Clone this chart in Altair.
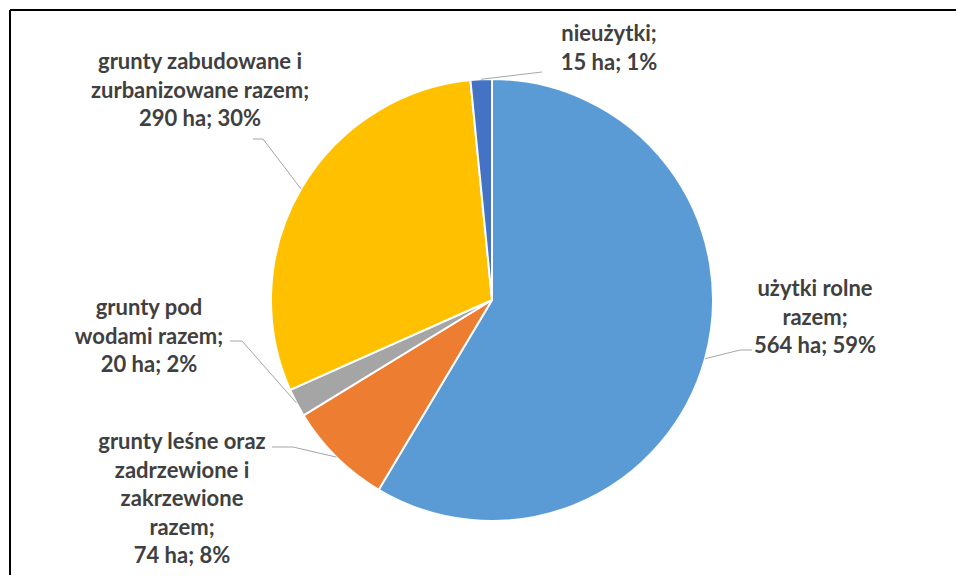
import altair as alt
import numpy as np
import pandas as pd

# ---- data ----
categories = [
    "użytki rolne razem",
    "grunty leśne oraz zadrzewione i zakrzewione razem",
    "grunty pod wodami razem",
    "grunty zabudowane i zurbanizowane razem",
    "nieużytki",
]
areas_ha = [564, 74, 20, 290, 15]
percents = [59, 8, 2, 30, 1]
label_lines = [
    ["użytki rolne", "razem;", "564 ha; 59%"],
    ["grunty leśne oraz", "zadrzewione i", "zakrzewione", "razem;", "74 ha; 8%"],
    ["grunty pod", "wodami razem;", "20 ha; 2%"],
    ["grunty zabudowane i", "zurbanizowane razem;", "290 ha; 30%"],
    ["nieużytki;", "15 ha; 1%"],
]
colors = ["#5B9BD5", "#ED7D31", "#A5A5A5", "#FFC000", "#4472C4"]

# ---- layout (plot coordinates, px; label y = first line centre) ----
W, H = 946, 565
CX, CY, R = 482, 290, 221
label_pos = [(805, 279), (172, 432), (139, 298), (190, 52), (599, 24)]
elbows = [[(742, 340), (730, 340)], [(262, 437), (283, 437)], [(220, 331), (232, 331)],
          [(243, 129), (253, 129)], [(532, 62)]]

df = pd.DataFrame({
    "cat": categories,
    "area": areas_ha,
    "idx": list(range(len(categories))),
})

tdf = pd.DataFrame({
    "cat": categories,
    "txt": ["\n".join(l) for l in label_lines],
    "lx": [p[0] for p in label_pos],
    "ly": [p[1] for p in label_pos],
})

# leader lines: from elbow points to the rim at each slice's mid-angle
total = float(sum(areas_ha))
cum = np.cumsum([0] + areas_ha[:-1])
rows = []
for i, c in enumerate(categories):
    mid = (cum[i] + areas_ha[i] / 2) / total * 2 * np.pi
    ex, ey = CX + R * np.sin(mid), CY - R * np.cos(mid)
    pts = elbows[i] + [(ex, ey)]
    for j, (px, py) in enumerate(pts):
        rows.append({"cat": c, "seq": j, "px": px, "py": py})
ldf = pd.DataFrame(rows)

pie = alt.Chart(df).mark_arc(
    radius=R, x=CX, y=CY, stroke="white", strokeWidth=2
).encode(
    theta=alt.Theta("area:Q", stack=True),
    order=alt.Order("idx:Q"),
    color=alt.Color("cat:N", scale=alt.Scale(domain=categories, range=colors), legend=None),
)

leaders = alt.Chart(ldf).mark_line(color="#A6A6A6", strokeWidth=1).encode(
    x=alt.X("px:Q", scale=None, axis=None),
    y=alt.Y("py:Q", scale=None, axis=None),
    detail="cat:N",
    order="seq:Q",
)

labels = alt.Chart(tdf).mark_text(
    font="Lato", fontWeight="bold", fontSize=22, color="#404040",
    lineBreak="\n", lineHeight=28.5, align="center", baseline="middle",
).encode(
    x=alt.X("lx:Q", scale=None, axis=None),
    y=alt.Y("ly:Q", scale=None, axis=None),
    text="txt:N",
)

frame_top = alt.Chart(df).mark_rule(color="black", strokeWidth=2).encode(
    x=alt.value(0), x2=alt.value(W), y=alt.value(0)
)
frame_left = alt.Chart(df).mark_rule(color="black", strokeWidth=2).encode(
    x=alt.value(0), y=alt.value(0), y2=alt.value(H)
)

chart = alt.layer(pie, leaders, labels, frame_top, frame_left).properties(
    width=W, height=H,
    autosize=alt.AutoSizeParams(type="none"),
    padding={"left": 2, "top": 2, "right": 0, "bottom": 0},
).configure_view(strokeWidth=0).resolve_scale(x="independent", y="independent")

chart.save("out.html", embed_options={"renderer": "svg", "actions": False})
